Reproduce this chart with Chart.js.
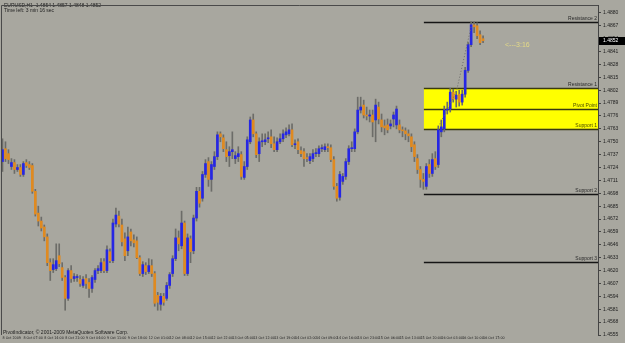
<!DOCTYPE html>
<html><head><meta charset="utf-8">
<script src="https://cdn.jsdelivr.net/npm/chart.js@4.4.1/dist/chart.umd.min.js"></script>
<style>html,body{margin:0;padding:0;background:#a8a79f;}canvas{display:block;}</style>
</head><body>
<canvas id="c" width="625" height="343"></canvas>
<script>
// ---- data (EURUSD, H1) ----
const slotCount = 200; // chart slots incl. empty space to the right
const xTickLabels = ["8 Oct 2009","8 Oct 07:00","8 Oct 14:00","8 Oct 21:00","9 Oct 04:00","9 Oct 11:00","9 Oct 18:00",
 "12 Oct 01:00","12 Oct 08:00","12 Oct 15:00","12 Oct 22:00","13 Oct 05:00","13 Oct 12:00","13 Oct 19:00",
 "14 Oct 02:00","14 Oct 09:00","14 Oct 16:00","14 Oct 23:00","15 Oct 06:00","15 Oct 13:00","15 Oct 20:00",
 "16 Oct 03:00","16 Oct 10:00","16 Oct 17:00"];
const opens = [
1.4730,1.4743,1.4738,1.4725,1.4729,1.4722,1.4724,1.4717,1.4729,1.4727,
1.4726,1.4700,1.4678,1.4670,1.4664,1.4654,1.4628,1.4621,1.4622,1.4635,
1.4623,1.4613,1.4592,1.4620,1.4612,1.4613,1.4611,1.4605,1.4612,1.4608,
1.4602,1.4611,1.4620,1.4620,1.4629,1.4620,1.4639,1.4630,1.4667,1.4675,
1.4666,1.4652,1.4640,1.4659,1.4651,1.4650,1.4633,1.4617,1.4625,1.4619,
1.4625,1.4617,1.4595,1.4586,1.4594,1.4592,1.4605,1.4617,1.4632,1.4653,
1.4645,1.4668,1.4617,1.4652,1.4640,1.4673,1.4700,1.4693,1.4717,1.4730,
1.4712,1.4725,1.4735,1.4758,1.4754,1.4742,1.4736,1.4740,1.4733,1.4735,
1.4737,1.4714,1.4725,1.4750,1.4772,1.4758,1.4738,1.4750,1.4750,1.4753,
1.4755,1.4748,1.4742,1.4750,1.4753,1.4757,1.4758,1.4762,1.4747,1.4750,
1.4741,1.4740,1.4734,1.4731,1.4733,1.4738,1.4738,1.4743,1.4742,1.4745,
1.4744,1.4732,1.4705,1.4694,1.4710,1.4715,1.4730,1.4743,1.4743,1.4760,
1.4782,1.4787,1.4777,1.4776,1.4777,1.4772,1.4785,1.4772,1.4766,1.4767,
1.4766,1.4773,1.4767,1.4767,1.4762,1.4761,1.4758,1.4755,1.4747,1.4733,
1.4722,1.4712,1.4705,1.4727,1.4718,1.4733,1.4727,1.4760,1.4763,1.4782,
1.4783,1.4800,1.4793,1.4798,1.4790,1.4798,1.4822,1.4848,1.4868,1.4867,
1.4858,1.4854];
const highs = [
1.4753,1.4750,1.4742,1.4733,1.4732,1.4727,1.4727,1.4730,1.4732,1.4730,
1.4728,1.4702,1.4685,1.4674,1.4666,1.4657,1.4632,1.4632,1.4647,1.4647,
1.4628,1.4615,1.4622,1.4625,1.4617,1.4616,1.4615,1.4614,1.4616,1.4612,
1.4615,1.4622,1.4625,1.4632,1.4632,1.4645,1.4642,1.4672,1.4683,1.4680,
1.4672,1.4658,1.4664,1.4662,1.4656,1.4654,1.4635,1.4629,1.4628,1.4632,
1.4631,1.4619,1.4598,1.4597,1.4597,1.4608,1.4618,1.4635,1.4662,1.4660,
1.4680,1.4670,1.4657,1.4655,1.4676,1.4704,1.4704,1.4720,1.4732,1.4734,
1.4730,1.4740,1.4760,1.4760,1.4757,1.4750,1.4745,1.4760,1.4740,1.4745,
1.4740,1.4730,1.4755,1.4775,1.4778,1.4760,1.4754,1.4758,1.4758,1.4760,
1.4762,1.4755,1.4754,1.4758,1.4762,1.4764,1.4767,1.4768,1.4752,1.4753,
1.4745,1.4743,1.4738,1.4738,1.4742,1.4743,1.4746,1.4747,1.4748,1.4748,
1.4747,1.4735,1.4708,1.4720,1.4718,1.4733,1.4746,1.4750,1.4763,1.4795,
1.4795,1.4792,1.4785,1.4782,1.4782,1.4793,1.4790,1.4778,1.4772,1.4773,
1.4772,1.4780,1.4786,1.4772,1.4765,1.4764,1.4762,1.4758,1.4750,1.4737,
1.4725,1.4718,1.4728,1.4732,1.4738,1.4740,1.4766,1.4772,1.4786,1.4790,
1.4804,1.4803,1.4801,1.4802,1.4802,1.4825,1.4850,1.4871,1.4871,1.4870,
1.4862,1.4857];
const lows = [
1.4720,1.4730,1.4728,1.4722,1.4718,1.4720,1.4715,1.4715,1.4724,1.4722,
1.4698,1.4675,1.4665,1.4660,1.4650,1.4625,1.4610,1.4618,1.4620,1.4624,
1.4610,1.4580,1.4590,1.4608,1.4609,1.4609,1.4604,1.4603,1.4602,1.4593,
1.4598,1.4608,1.4617,1.4618,1.4618,1.4618,1.4628,1.4628,1.4664,1.4664,
1.4645,1.4630,1.4635,1.4645,1.4644,1.4632,1.4615,1.4614,1.4616,1.4617,
1.4614,1.4584,1.4580,1.4580,1.4585,1.4590,1.4602,1.4614,1.4630,1.4640,
1.4642,1.4615,1.4615,1.4628,1.4637,1.4670,1.4684,1.4690,1.4714,1.4705,
1.4700,1.4722,1.4732,1.4750,1.4740,1.4730,1.4725,1.4733,1.4728,1.4730,
1.4712,1.4712,1.4722,1.4748,1.4755,1.4734,1.4730,1.4745,1.4747,1.4749,
1.4744,1.4740,1.4740,1.4748,1.4750,1.4754,1.4756,1.4745,1.4743,1.4738,
1.4735,1.4725,1.4730,1.4728,1.4730,1.4735,1.4735,1.4740,1.4740,1.4740,
1.4730,1.4702,1.4690,1.4691,1.4707,1.4712,1.4727,1.4740,1.4740,1.4758,
1.4779,1.4774,1.4772,1.4770,1.4755,1.4750,1.4768,1.4760,1.4757,1.4759,
1.4763,1.4765,1.4763,1.4759,1.4755,1.4752,1.4750,1.4740,1.4730,1.4718,
1.4704,1.4702,1.4702,1.4714,1.4715,1.4722,1.4724,1.4755,1.4760,1.4778,
1.4780,1.4790,1.4785,1.4786,1.4787,1.4795,1.4820,1.4846,1.4860,1.4854,
1.4848,1.4850];
const closes = [
1.4742,1.4733,1.4732,1.4729,1.4722,1.4724,1.4717,1.4728,1.4726,1.4724,
1.4700,1.4677,1.4670,1.4663,1.4654,1.4628,1.4620,1.4626,1.4630,1.4627,
1.4613,1.4592,1.4620,1.4612,1.4614,1.4614,1.4607,1.4611,1.4607,1.4602,
1.4613,1.4620,1.4622,1.4628,1.4620,1.4641,1.4630,1.4668,1.4676,1.4667,
1.4649,1.4635,1.4654,1.4650,1.4648,1.4633,1.4617,1.4626,1.4619,1.4625,
1.4617,1.4587,1.4588,1.4594,1.4588,1.4605,1.4616,1.4632,1.4653,1.4647,
1.4668,1.4617,1.4653,1.4639,1.4673,1.4700,1.4688,1.4717,1.4728,1.4712,
1.4727,1.4735,1.4757,1.4755,1.4743,1.4735,1.4740,1.4742,1.4736,1.4738,
1.4715,1.4725,1.4752,1.4772,1.4758,1.4737,1.4750,1.4751,1.4752,1.4754,
1.4748,1.4742,1.4750,1.4753,1.4758,1.4760,1.4762,1.4747,1.4748,1.4742,
1.4738,1.4733,1.4733,1.4735,1.4738,1.4739,1.4743,1.4744,1.4745,1.4744,
1.4732,1.4705,1.4693,1.4717,1.4715,1.4730,1.4743,1.4744,1.4760,1.4782,
1.4785,1.4777,1.4776,1.4777,1.4770,1.4787,1.4773,1.4765,1.4764,1.4762,
1.4768,1.4777,1.4783,1.4762,1.4761,1.4758,1.4756,1.4745,1.4735,1.4722,
1.4712,1.4710,1.4725,1.4718,1.4732,1.4725,1.4762,1.4765,1.4782,1.4783,
1.4800,1.4793,1.4797,1.4790,1.4798,1.4822,1.4848,1.4868,1.4866,1.4857,
1.4850,1.4852];
const yTicks = [1.4880,1.4867,1.4854,1.4841,1.4828,1.4815,1.4802,1.4789,1.4776,1.4763,1.4750,1.4737,1.4724,
 1.4711,1.4698,1.4685,1.4672,1.4659,1.4646,1.4633,1.4620,1.4607,1.4594,1.4581,1.4568,1.4555];
// pivot levels
const levelNames  = ["Resistance 2","Resistance 1","Pivot Point","Support 1","Support 2","Support 3"];
const levelValues = [1.4871,1.4804,1.4783,1.4763,1.4697,1.4629];
const levelStartIndex = 141;
const trendIdx = [146,152,157];
const trendVals = [1.4765,1.4800,1.4866];
const yMin = 1.4555, yMax = 1.4888;

// ---- build datasets ----
const cats = Array.from({length: slotCount}, (_, i) => i);
const wickData = cats.map(i => i < opens.length ? [lows[i], highs[i]] : null);
const bodyData = cats.map(i => i < opens.length ? [opens[i], closes[i]] : null);
const BULL = '#2626e4', BEAR = '#e08a20';
const bodyColors = cats.map(i => i < opens.length ? (closes[i] >= opens[i] ? BULL : BEAR) : BULL);
const trendData = cats.map(i => { const k = trendIdx.indexOf(i); return k >= 0 ? trendVals[k] : null; });
const lastClose = closes[closes.length - 1];

const FONT = 'Liberation Sans';
const NARROW = '"Liberation Sans Narrow", "DejaVu Sans Condensed", "Liberation Sans", sans-serif';

const bgPlugin = { id: 'bg', beforeDraw(c) { const x = c.ctx; x.save(); x.fillStyle = '#a8a79f'; x.fillRect(0, 0, c.width, c.height); x.restore(); } };

const levelsPlugin = {
  id: 'levels',
  beforeDatasetsDraw(c) {
    const ctx = c.ctx, xs = c.scales.x, ys = c.scales.y, a = c.chartArea;
    const x0 = xs.getPixelForValue(levelStartIndex) + 0.5;
    ctx.save();
    const yt = ys.getPixelForValue(levelValues[1]), yb = ys.getPixelForValue(levelValues[3]);
    ctx.fillStyle = '#ffff00';
    ctx.fillRect(x0, yt, a.right - x0, yb - yt);
    levelValues.forEach((v, k) => {
      const y = Math.round(ys.getPixelForValue(v)) + 0.5;
      ctx.strokeStyle = (k >= 1 && k <= 3) ? '#3a3a10' : '#151515';
      ctx.lineWidth = 1.5;
      ctx.beginPath(); ctx.moveTo(x0, y); ctx.lineTo(a.right, y); ctx.stroke();
    });
    ctx.restore();
  },
  afterDatasetsDraw(c) {
    const ctx = c.ctx, xs = c.scales.x, ys = c.scales.y, a = c.chartArea;
    ctx.save();
    // level captions
    ctx.font = '5px ' + FONT; ctx.textAlign = 'right'; ctx.textBaseline = 'bottom';
    levelValues.forEach((v, k) => {
      ctx.fillStyle = (k >= 2 && k <= 3) ? '#4a4a00' : '#2a2a2a';
      ctx.fillText(levelNames[k], a.right - 1, ys.getPixelForValue(v) - 1);
    });
    // countdown text
    ctx.font = '7px ' + FONT; ctx.textAlign = 'left'; ctx.textBaseline = 'middle';
    ctx.fillStyle = '#e4da86';
    ctx.fillText('<---3:16', 505, ys.getPixelForValue(lastClose) + 4);
    // header texts
    ctx.fillStyle = '#1e1e1e'; ctx.font = '5px ' + FONT; ctx.textBaseline = 'top';
    ctx.fillText('EURUSD,H1  1.4854 1.4857 1.4848 1.4852', 4, 3);
    ctx.fillText('Time left: 3 min 16 sec', 4, 8);
    ctx.textBaseline = 'bottom';
    ctx.fillText('PivotIndicator, \u00a9 2001-2009 MetaQuotes Software Corp.', 3, a.bottom);
    // borders
    ctx.strokeStyle = '#4a4a4a'; ctx.lineWidth = 1;
    ctx.beginPath(); ctx.moveTo(a.left + 0.5, a.bottom); ctx.lineTo(a.left + 0.5, a.top + 0.5); ctx.lineTo(a.right, a.top + 0.5); ctx.stroke();
    // current price marker
    const yp = Math.round(ys.getPixelForValue(lastClose));
    ctx.fillStyle = '#000'; ctx.fillRect(a.right + 1, yp - 4, 26, 8);
    ctx.fillStyle = '#fff'; ctx.font = '5px ' + FONT; ctx.textBaseline = 'middle'; ctx.textAlign = 'left';
    ctx.fillText(lastClose.toFixed(4), a.right + 5, yp);
    ctx.restore();
  }
};

new Chart(document.getElementById('c'), {
  type: 'bar',
  data: {
    labels: cats,
    datasets: [
      { type: 'line', data: trendData, spanGaps: true, borderColor: '#6a6a6a', borderWidth: 1, borderDash: [1, 2], pointRadius: 0, order: 0 },
      { data: bodyData, backgroundColor: bodyColors, barThickness: 2, grouped: false, order: 1 },
      { data: wickData, backgroundColor: '#6c6c68', barThickness: 1, grouped: false, order: 2 }
    ]
  },
  options: {
    responsive: false, animation: false,
    layout: { padding: { left: 1, top: 1, right: 0, bottom: 0 } },
    plugins: { legend: { display: false }, tooltip: { enabled: false } },
    scales: {
      x: {
        type: 'category', offset: true,
        grid: { display: false, drawTicks: false, tickLength: 0 }, border: { display: false },
        ticks: {
          autoSkip: false, maxRotation: 0, minRotation: 0, padding: 1, align: 'start',
          font: { size: 3.7, family: NARROW }, color: '#222',
          callback: (v, i) => (i % 7 === 0 && i / 7 < xTickLabels.length) ? xTickLabels[i / 7] : ''
        },
        afterFit: s => { s.height = 8; }
      },
      y: {
        position: 'right', min: yMin, max: yMax,
        grid: { drawOnChartArea: false, color: '#444', tickLength: 3 },
        border: { color: '#444' },
        ticks: { font: { size: 5, family: FONT }, color: '#222', padding: 2, callback: v => Number(v).toFixed(4) },
        afterBuildTicks: s => { s.ticks = yTicks.map(v => ({ value: v })); },
        afterFit: s => { s.width = 27; }
      }
    }
  },
  plugins: [bgPlugin, levelsPlugin]
});
</script>
</body></html>
